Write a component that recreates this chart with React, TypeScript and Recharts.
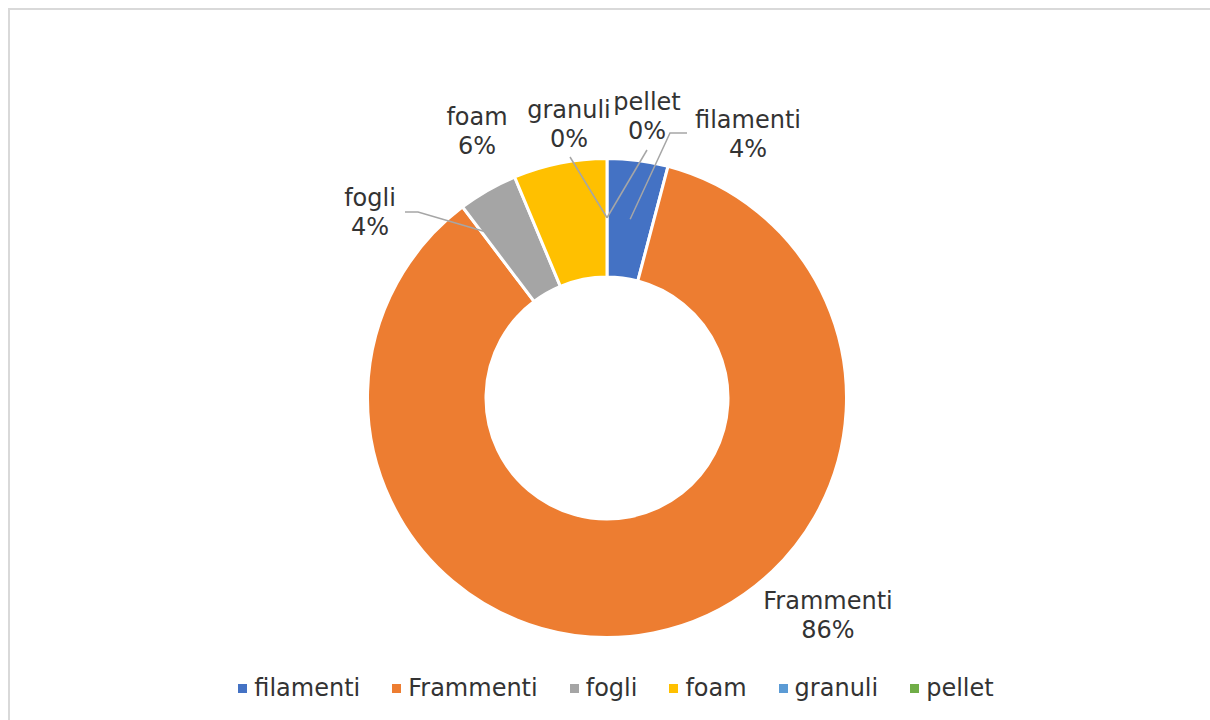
import React from "react";
import { PieChart, Pie, Cell, Legend } from "recharts";

const categories = ["filamenti", "Frammenti", "fogli", "foam", "granuli", "pellet"];
const shares = [4.1, 85.6, 4.0, 6.3, 0, 0];
const colors = ["#4472C4", "#ED7D31", "#A5A5A5", "#FFC000", "#5B9BD5", "#70AD47"];

// label placement (relative to pie centre) and leader lines (relative to label centre)
const labelLayout: Record<string, any> = {
  filamenti: { dx: 141, dy: -264, leader: [[-78, -1], [-61, -1]] },
  Frammenti: { dx: 221, dy: 217, leader: null },
  fogli: { dx: -237, dy: -186, leader: [[48, 0], [35, 0]], anchorR: 206, angleShift: 6.3 },
  foam: { dx: -130, dy: -267, leader: null },
  granuli: { dx: -38, dy: -274, leader: [[1, 33]] },
  pellet: { dx: 40, dy: -282, leader: [[0, 34]] },
};

const data = categories.map((name, i) => ({ name, value: shares[i] }));

const FONT = "'DejaVu Sans', sans-serif";
const TEXT = "#333333";
const RAD = Math.PI / 180;

const renderLabel = (props: any) => {
  const { cx, cy, midAngle, innerRadius, outerRadius, name, percent } = props;
  const cfg = labelLayout[name];
  if (!cfg) return null;
  const lx = cx + cfg.dx;
  const ly = cy + cfg.dy;
  let line = null;
  if (cfg.leader) {
    const r = cfg.anchorR ?? (innerRadius + outerRadius) / 2;
    const a = midAngle + (cfg.angleShift ?? 0);
    const ax = cx + r * Math.cos(-a * RAD);
    const ay = cy + r * Math.sin(-a * RAD);
    const pts = [[ax, ay], ...cfg.leader.map((p: number[]) => [lx + p[0], ly + p[1]])];
    line = (
      <polyline
        points={pts.map((p) => p.join(",")).join(" ")}
        fill="none"
        stroke="#A6A6A6"
        strokeWidth={1.5}
      />
    );
  }
  return (
    <g>
      {line}
      <text x={lx} y={ly - 14.5} textAnchor="middle" dominantBaseline="central" fill={TEXT} fontSize={24} fontFamily={FONT}>
        {name}
      </text>
      <text x={lx} y={ly + 14.5} textAnchor="middle" dominantBaseline="central" fill={TEXT} fontSize={24} fontFamily={FONT}>
        {`${Math.round(percent * 100)}%`}
      </text>
    </g>
  );
};

const renderLegend = () => (
  <div
    style={{
      display: "flex",
      justifyContent: "center",
      alignItems: "center",
      gap: 32,
      height: 40,
      paddingBottom: 12,
      paddingLeft: 14,
      fontFamily: FONT,
      fontSize: 24,
      color: TEXT,
    }}
  >
    {categories.map((c, i) => (
      <div key={c} style={{ display: "flex", alignItems: "center" }}>
        <span style={{ display: "inline-block", width: 9, height: 9, background: colors[i], marginRight: 7 }} />
        <span>{c}</span>
      </div>
    ))}
  </div>
);

export default function App() {
  return (
    <div
      style={{
        position: "fixed",
        left: 8,
        top: 8,
        width: 1202,
        height: 712,
        overflow: "hidden",
        background: "#fff",
      }}
    >
      <PieChart width={1202} height={712} margin={{ top: 0, right: 0, bottom: 0, left: 0 }}>
        <Pie
          data={data}
          dataKey="value"
          nameKey="name"
          cx={599}
          cy={390}
          innerRadius={121}
          outerRadius={239.5}
          startAngle={90}
          endAngle={-270}
          stroke="#ffffff"
          strokeWidth={3}
          label={renderLabel}
          labelLine={false}
          isAnimationActive={false}
        >
          {data.map((d, i) => (
            <Cell key={d.name} fill={colors[i]} />
          ))}
        </Pie>
        <Legend verticalAlign="bottom" content={renderLegend} />
      </PieChart>
      <div
        style={{
          position: "absolute",
          left: 0,
          top: 0,
          width: 1300,
          height: 800,
          borderLeft: "2px solid #D9D9D9",
          borderTop: "2px solid #D9D9D9",
          pointerEvents: "none",
          boxSizing: "border-box",
        }}
      />
    </div>
  );
}
